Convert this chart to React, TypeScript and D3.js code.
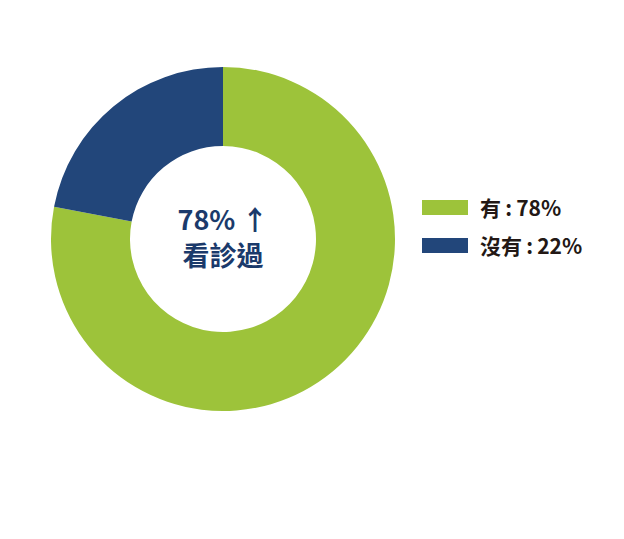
import React from 'react'
import * as d3 from 'd3'

const categories = ['有', '沒有']
const values = [78, 22]
const colors = ['#9dc33a', '#22467a']
const centerLines = ['78% ↑', '看診過']

const WIDTH = 624
const HEIGHT = 539
const cx = 223
const cy = 239
const outerR = 172
const innerR = 93

const App = () => {
    const pie = d3.pie<number>().sort(null).value(d => d)
    const arcs = pie(values)
    const arc = d3.arc<d3.PieArcDatum<number>>().innerRadius(innerR).outerRadius(outerR)
    const font = '"Noto Sans CJK TC", "Noto Sans", sans-serif'

    return (
        <svg width={WIDTH} height={HEIGHT} style={{ position: 'absolute', left: 0, top: 0 }}>
            <rect width={WIDTH} height={HEIGHT} fill="#fff" />
            {/* donut */}
            <g transform={`translate(${cx},${cy})`}>
                {arcs.map((a, i) => (
                    <path key={i} d={arc(a) || ''} fill={colors[i]} />
                ))}
                {centerLines.map((t, i) => (
                    <text key={t} x={0} y={-9 + i * 36} textAnchor="middle" fontSize={27}
                        fontWeight="bold" fill="#1b3a6b" fontFamily={font}>
                        {t}
                    </text>
                ))}
            </g>
            {/* legend */}
            <g transform="translate(422,200)">
                {categories.map((c, i) => (
                    <g key={c} transform={`translate(0,${i * 38})`}>
                        <rect x={0} y={0} width={46} height={15} fill={colors[i]} />
                        <text x={58} y={16} fontSize={21} fontWeight="bold" fill="#231815" fontFamily={font}>
                            {c}{'\u2009:\u2009'}{values[i]}%
                        </text>
                    </g>
                ))}
            </g>
        </svg>
    )
}

export default App
